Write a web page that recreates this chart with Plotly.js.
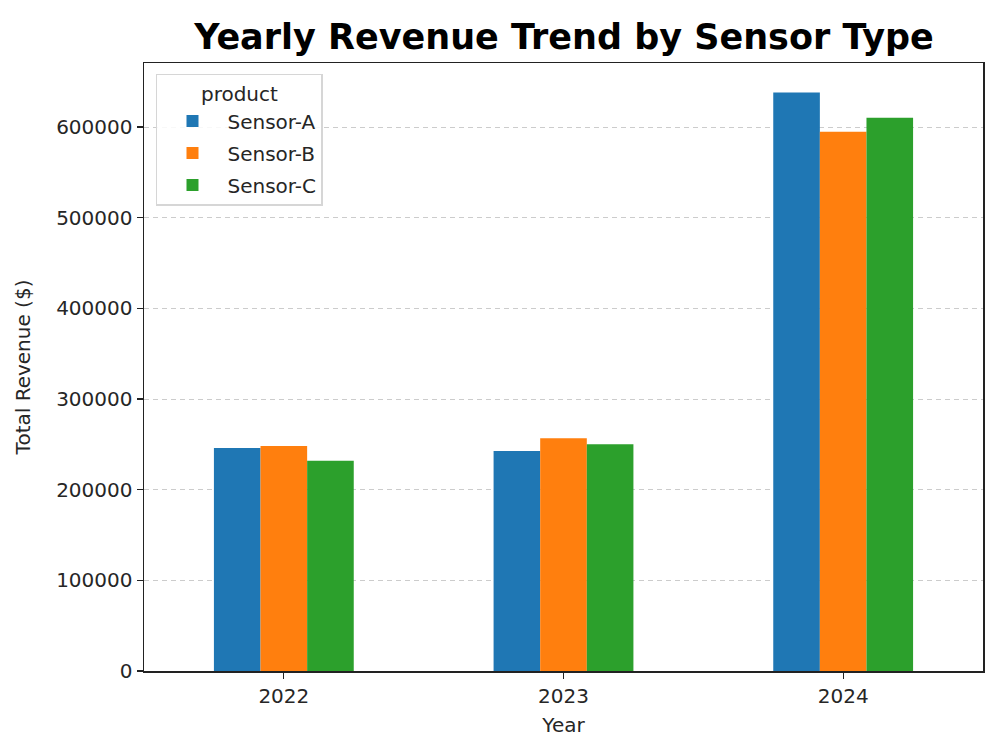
<!DOCTYPE html>
<html>
<head>
<meta charset="utf-8">
<script src="https://cdn.plot.ly/plotly-3.0.1.min.js"></script>
<style>html,body{margin:0;padding:0;background:#fff;}#chart{width:1000px;height:750px;}</style>
</head>
<body>
<div id="chart"></div>
<script>
const years = ["2022", "2023", "2024"];
const products = ["Sensor-A", "Sensor-B", "Sensor-C"];
const sensorA = [245900, 242600, 638200];
const sensorB = [248200, 256600, 594800];
const sensorC = [231900, 250000, 610200];
const yTicks = [0, 100000, 200000, 300000, 400000, 500000, 600000];
const colors = ["#1f77b4", "#ff7f0e", "#2ca02c"];
const series = [sensorA, sensorB, sensorC];

const traces = products.map((p, i) => ({
  type: "bar",
  name: p,
  legendgroup: p,
  x: years,
  y: series[i],
  marker: {color: colors[i], line: {width: 0}}
}));

const font = "DejaVu Sans, sans-serif";
const txt = "#262626";
const layout = {
  width: 1000, height: 750,
  margin: {l: 144, r: 17, t: 63, b: 79},
  paper_bgcolor: "#fff", plot_bgcolor: "#fff",
  barmode: "group", bargap: 0.5, bargroupgap: 0,
  font: {family: font, size: 20, color: txt},
  title: {text: "<b>Yearly Revenue Trend by Sensor Type</b>", x: 0.564, xanchor: "center", y: 0.951, yanchor: "middle",
          font: {family: font, size: 35, color: "#000"}},
  xaxis: {
    type: "category", range: [-0.5, 2.5],
    showline: true, linecolor: "#222", linewidth: 1.5, mirror: true,
    ticks: "outside", ticklen: 6, tickcolor: "#222", tickwidth: 1.2,
    showgrid: false,
    tickfont: {family: font, size: 20, color: txt},
    title: {text: "Year", font: {family: font, size: 20, color: txt}, standoff: 11}
  },
  yaxis: {
    range: [0, 670600],
    tickvals: yTicks,
    ticktext: yTicks.map(String),
    showline: true, linecolor: "#222", linewidth: 1.5, mirror: true,
    ticks: "outside", ticklen: 6, tickcolor: "#222", tickwidth: 1.2,
    showgrid: true, gridcolor: "#cccccc", griddash: "5px,4px", gridwidth: 1,
    zeroline: false,
    tickfont: {family: font, size: 20, color: txt},
    title: {text: "Total Revenue ($)", font: {family: font, size: 20, color: txt}, standoff: 20}
  },
  legend: {
    x: 0.0143, y: 0.982, xanchor: "left", yanchor: "top",
    bgcolor: "rgba(255,255,255,0.85)", bordercolor: "#d6d6d6", borderwidth: 1.5,
    title: {text: "product", side: "top center", font: {family: font, size: 20, color: txt}},
    font: {family: font, size: 20, color: txt},
    traceorder: "grouped",
    itemwidth: 60, tracegroupgap: 3
  },
  showlegend: true
};

Plotly.newPlot("chart", traces, layout, {displayModeBar: false, staticPlot: true});
</script>
</body>
</html>
